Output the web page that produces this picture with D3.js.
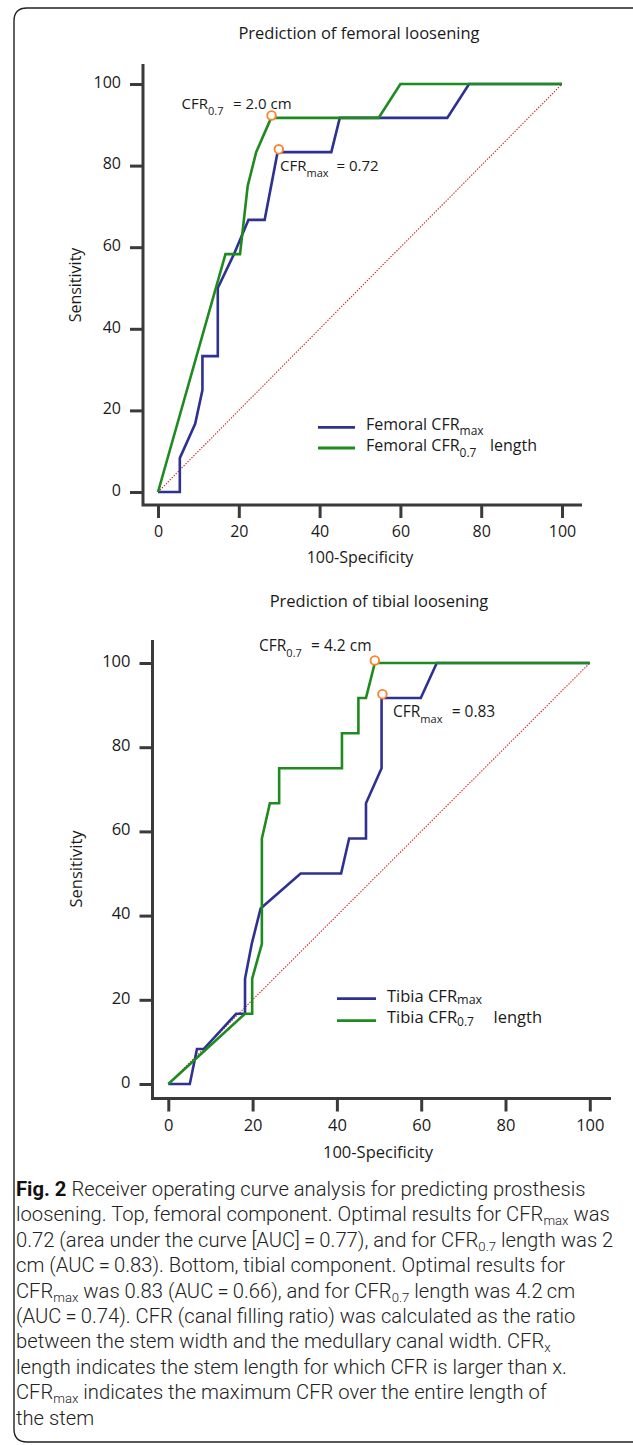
<!DOCTYPE html>
<html>
<head>
<meta charset="utf-8">
<script src="https://cdn.jsdelivr.net/npm/d3@7"></script>
<style>
  html, body { margin: 0; padding: 0; background: #fff; }
  svg { display: block; }
</style>
</head>
<body>
<script>
// ---------------- DATA ----------------
const xTicks = [0, 20, 40, 60, 80, 100];
const yTicks = [0, 20, 40, 60, 80, 100];

// Femoral CFRmax ROC
const femMaxX = [0, 5.4, 5.4, 9.2, 11, 11, 14.8, 14.8, 18.8, 22.4, 26.4, 29.6, 42.9, 45, 71.6, 77, 100];
const femMaxY = [0, 0, 8.3, 16.7, 25, 33.3, 33.3, 50, 58.3, 66.7, 66.7, 83.3, 83.3, 91.7, 91.7, 100, 100];
// Femoral CFR0.7 length ROC
const femLenX = [0, 16.7, 20.3, 22.2, 24.3, 28.0, 54.6, 60, 100];
const femLenY = [0, 58.3, 58.3, 75, 83.3, 91.7, 91.7, 100, 100];
// Femoral optimal points (CFR0.7, CFRmax)
const femMarkX = [28.1, 29.9];
const femMarkY = [92.3, 84.0];

// Tibial CFRmax ROC
const tibMaxX = [0, 5.1, 6.8, 8.4, 16.1, 18.2, 18.2, 19.8, 21.9, 31.4, 41, 42.9, 46.9, 46.9, 50.6, 50.6, 59.9, 63.7, 100];
const tibMaxY = [0, 0, 8.3, 8.3, 16.7, 16.7, 25, 33.3, 41.7, 50, 50, 58.3, 58.3, 66.7, 75, 91.7, 91.7, 100, 100];
// Tibial CFR0.7 length ROC
const tibLenX = [0, 18.2, 19.9, 19.9, 22.2, 22.2, 24.1, 26.3, 26.3, 41.2, 41.2, 45.1, 45.1, 46.9, 49, 100];
const tibLenY = [0, 16.7, 16.7, 25, 33.3, 58.3, 66.7, 66.7, 75, 75, 83.3, 83.3, 91.7, 91.7, 100, 100];
// Tibial optimal points
const tibMarkX = [49.0, 50.8];
const tibMarkY = [100.6, 92.6];

// reference diagonal
const diagX = [0, 100];
const diagY = [0, 100];

const titles = ["Prediction of femoral loosening", "Prediction of tibial loosening"];
const xTitle = "100-Specificity";
const yTitle = "Sensitivity";

const captionLines = [
  [["Fig. 2", "b"], [" Receiver operating curve analysis for predicting prosthesis"]],
  [["loosening. Top, femoral component. Optimal results for CFR"], ["max", "s"], [" was"]],
  [["0.72 (area under the curve [AUC]\u2009=\u20090.77), and for CFR"], ["0.7", "s"], [" length was 2"]],
  [["cm (AUC\u2009=\u20090.83). Bottom, tibial component. Optimal results for"]],
  [["CFR"], ["max", "s"], [" was 0.83 (AUC\u2009=\u20090.66), and for CFR"], ["0.7", "s"], [" length was 4.2\u2009cm"]],
  [["(AUC\u2009=\u20090.74). CFR (canal filling ratio) was calculated as the ratio"]],
  [["between the stem width and the medullary canal width. CFR"], ["x", "s"]],
  [["length indicates the stem length for which CFR is larger than x."]],
  [["CFR"], ["max", "s"], [" indicates the maximum CFR over the entire length of"]],
  [["the stem"]]
];

// ---------------- STYLE / LAYOUT ----------------
const W = 633, H = 1445;
const BLUE = "#2e3192", GREEN = "#1f8a1f", RED = "#c8262b", ORANGE = "#f7862f", AXIS = "#3a3a3a", TXT = "#1a1a1a";
const FONT = "'Open Sans', 'Noto Sans', sans-serif";

const svg = d3.select("body").append("svg").attr("width", W).attr("height", H);
svg.append("rect").attr("width", W).attr("height", H).attr("fill", "#fff");

// frame (right side open / cut)
svg.append("path")
  .attr("d", "M 640 8 H 27 Q 14 8 14 21 V 1429 Q 14 1442 27 1442 H 640")
  .attr("fill", "none").attr("stroke", "#222").attr("stroke-width", 1.4);

function subText(g, x, y, parts, size, color) {
  const t = g.append("text").attr("x", x).attr("y", y)
    .attr("font-family", FONT).attr("font-size", size).attr("fill", color || TXT);
  parts.forEach(p => {
    const ts = t.append("tspan").text(p.t);
    if (p.sub) ts.attr("font-size", p.subSize || size * 0.72).attr("dy", p.sub);
    if (p.dy) ts.attr("dy", p.dy);
    if (p.x !== undefined) ts.attr("x", p.x);
  });
  return t;
}

function panel(cfg) {
  const g = svg.append("g");
  const x = d3.scaleLinear().domain([0, 100]).range([cfg.x0, cfg.x1]);
  const y = d3.scaleLinear().domain([0, 100]).range([cfg.y0, cfg.y1]);

  // title
  g.append("text").attr("x", cfg.titleX).attr("y", cfg.titleY).attr("text-anchor", "middle")
    .attr("font-family", FONT).attr("font-size", cfg.titleSize).attr("fill", TXT).text(cfg.title);

  // axes
  const ya = g.append("g").attr("transform", `translate(${cfg.axL},0)`)
    .call(d3.axisLeft(y).tickValues(yTicks).tickSize(13).tickPadding(9).tickFormat(d => d));
  const xa = g.append("g").attr("transform", `translate(0,${cfg.axB})`)
    .call(d3.axisBottom(x).tickValues(xTicks).tickSize(13).tickPadding(7.5).tickFormat(d => d));
  [ya, xa].forEach(a => {
    a.select(".domain").remove();
    a.selectAll(".tick line").attr("stroke", AXIS).attr("stroke-width", 3);
    a.selectAll(".tick text").attr("fill", TXT).attr("font-family", FONT).attr("font-size", cfg.tickSize);
  });
  ya.selectAll(".tick text").attr("dy", "0.2em");
  g.append("path")
    .attr("d", `M ${cfg.axL} ${cfg.axT} V ${cfg.axB} H ${cfg.axR}`)
    .attr("fill", "none").attr("stroke", AXIS).attr("stroke-width", 3).attr("stroke-linejoin", "miter");

  // axis titles
  g.append("text").attr("x", cfg.xtX).attr("y", cfg.xtY).attr("text-anchor", "middle")
    .attr("font-family", FONT).attr("font-size", cfg.tickSize).attr("fill", TXT).text(xTitle);
  g.append("text").attr("transform", `translate(${cfg.ytX},${cfg.ytY}) rotate(-90)`)
    .attr("text-anchor", "middle").attr("dy", "0.35em")
    .attr("font-family", FONT).attr("font-size", cfg.tickSize).attr("fill", TXT).text(yTitle);

  const line = d3.line().x(d => x(d[0])).y(d => y(d[1]));
  const zip = (a, b) => a.map((v, i) => [v, b[i]]);

  // diagonal
  g.append("path").datum(zip(diagX, diagY)).attr("d", line)
    .attr("fill", "none").attr("stroke", RED).attr("stroke-width", 1.1).attr("stroke-dasharray", "1.4,1.4");

  // curves
  g.append("path").datum(zip(cfg.maxX, cfg.maxY)).attr("d", line)
    .attr("fill", "none").attr("stroke", BLUE).attr("stroke-width", 2.6).attr("stroke-linejoin", "miter");
  g.append("path").datum(zip(cfg.lenX, cfg.lenY)).attr("d", line)
    .attr("fill", "none").attr("stroke", GREEN).attr("stroke-width", 2.6).attr("stroke-linejoin", "miter");

  // markers
  g.selectAll(".mk").data(zip(cfg.markX, cfg.markY)).join("circle")
    .attr("cx", d => x(d[0])).attr("cy", d => y(d[1])).attr("r", 4.3)
    .attr("fill", "#fff").attr("stroke", ORANGE).attr("stroke-width", 1.9);

  // annotations
  cfg.annots.forEach(a => subText(g, a.x, a.y, a.parts, a.size));

  // legend
  cfg.legend.forEach(l => {
    g.append("line").attr("x1", l.lx1).attr("x2", l.lx2).attr("y1", l.ly).attr("y2", l.ly)
      .attr("stroke", l.color).attr("stroke-width", 2.8);
    subText(g, l.tx, l.ty, l.parts, cfg.legSize);
  });
}

panel({
  title: titles[0], titleX: 359, titleY: 39, titleSize: 16.5,
  x0: 158, x1: 562, y0: 492, y1: 84,
  axL: 143, axB: 505, axT: 64, axR: 582,
  tickSize: 16, xtX: 360, xtY: 563, ytX: 75, ytY: 285,
  maxX: femMaxX, maxY: femMaxY, lenX: femLenX, lenY: femLenY,
  markX: femMarkX, markY: femMarkY,
  annots: [
    { x: 181.5, y: 109, size: 15, parts: [{ t: "CFR" }, { t: "0.7", sub: 6, subSize: 11 }, { t: "= 2.0 cm", x: 233, dy: -6 }] },
    { x: 280, y: 171, size: 15, parts: [{ t: "CFR" }, { t: "max", sub: 6, subSize: 11 }, { t: "= 0.72", x: 336.5, dy: -6 }] }
  ],
  legSize: 16,
  legend: [
    { color: BLUE, lx1: 318, lx2: 355, ly: 427.4, tx: 366, ty: 430, parts: [{ t: "Femoral CFR" }, { t: "max", sub: 5, subSize: 12 }] },
    { color: GREEN, lx1: 318, lx2: 355, ly: 448, tx: 366, ty: 451, parts: [{ t: "Femoral CFR" }, { t: "0.7", sub: 6, subSize: 12 }, { t: "length", x: 490, dy: -6 }] }
  ]
});

panel({
  title: titles[1], titleX: 379, titleY: 607, titleSize: 16.5,
  x0: 168.3, x1: 589.8, y0: 1084, y1: 663,
  axL: 152.5, axB: 1098.5, axT: 640, axR: 611,
  tickSize: 16.5, xtX: 378, xtY: 1158, ytX: 76, ytY: 869,
  maxX: tibMaxX, maxY: tibMaxY, lenX: tibLenX, lenY: tibLenY,
  markX: tibMarkX, markY: tibMarkY,
  annots: [
    { x: 259, y: 651, size: 15.5, parts: [{ t: "CFR" }, { t: "0.7", sub: 6, subSize: 11 }, { t: "= 4.2 cm", x: 311, dy: -6 }] },
    { x: 393, y: 717, size: 15.5, parts: [{ t: "CFR" }, { t: "max", sub: 6, subSize: 11 }, { t: "= 0.83", x: 451.7, dy: -6 }] }
  ],
  legSize: 16.5,
  legend: [
    { color: BLUE, lx1: 337, lx2: 376, ly: 998.7, tx: 387, ty: 1002, parts: [{ t: "Tibia CFR" }, { t: "max", sub: 2, subSize: 12.5 }] },
    { color: GREEN, lx1: 337, lx2: 376, ly: 1020.7, tx: 387, ty: 1023, parts: [{ t: "Tibia CFR" }, { t: "0.7", sub: 3, subSize: 12 }, { t: "length", x: 493.5, dy: -3 }] }
  ]
});

// ---------------- CAPTION ----------------
const CAP_FONT = "Roboto, 'Noto Sans', sans-serif";
const capG = svg.append("g");
const capNodes = captionLines.map((segs, i) => {
  const t = capG.append("text")
    .attr("font-family", CAP_FONT).attr("font-size", 20).attr("font-weight", 300).attr("fill", "#222");
  let shifted = false;
  segs.forEach(s => {
    const ts = t.append("tspan").text(s[0]);
    if (s[1] === "b") ts.attr("font-weight", 700).attr("fill", "#111");
    if (s[1] === "s") { ts.attr("font-size", 13).attr("dy", 4); shifted = true; }
    else if (shifted) { ts.attr("dy", -4); shifted = false; }
  });
  return t;
});
const w0 = capNodes[0].node().getComputedTextLength();
const k = 570 / w0;
capNodes.forEach((t, i) => {
  t.attr("transform", `translate(16,${1196 + i * 25.4}) scale(${k},1)`);
});
</script>
</body>
</html>
